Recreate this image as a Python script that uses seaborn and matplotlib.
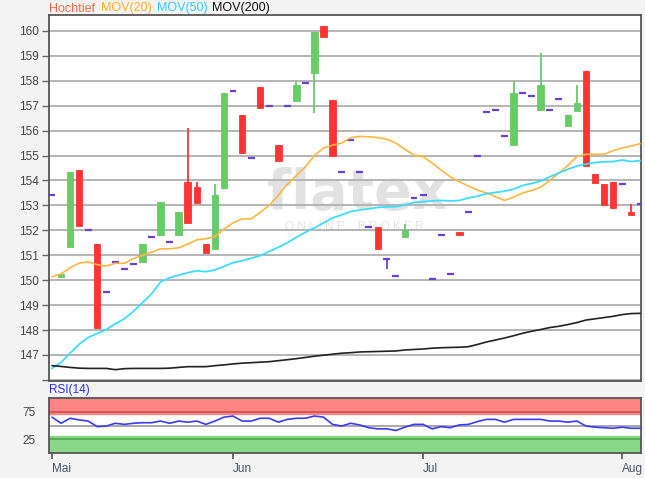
import numpy as np
import pandas as pd
import matplotlib
matplotlib.use("Agg")
import matplotlib.pyplot as plt
import seaborn as sns

# ---------------- data ----------------
month_labels = ["Mai", "Jun", "Jul", "Aug"]
month_pos = [0, 20, 41, 63]

opens = [153.42, 150.13, 151.33, 154.42, 152.00, 151.45, 149.54, 150.73, 150.45, 150.64,
         150.72, 151.73, 151.81, 151.55, 151.81, 153.95, 153.73, 151.45, 151.24, 153.69,
         157.59, 156.64, 154.90, 157.74, 157.00, 155.44, 157.00, 157.19, 157.93, 158.30,
         160.20, 157.22, 154.33, 155.63, 154.33, 152.12, 152.12, 150.84, 150.16, 151.75,
         153.31, 153.43, 150.06, 151.83, 150.25, 151.93, 152.74, 155.00, 156.74, 156.83,
         155.80, 155.41, 157.50, 157.39, 156.82, 156.82, 157.28, 156.19, 156.80, 158.41,
         154.25, 153.86, 153.94, 153.85, 152.75, 153.04]
highs = [153.42, 150.25, 154.34, 154.42, 152.00, 151.45, 149.54, 150.73, 150.45, 150.64,
         151.47, 151.73, 153.15, 151.55, 152.75, 156.12, 153.95, 151.45, 153.86, 157.50,
         157.59, 156.64, 154.90, 157.74, 157.00, 155.44, 157.00, 158.00, 157.93, 159.97,
         160.20, 157.22, 154.33, 155.63, 154.33, 152.12, 152.12, 150.84, 150.16, 152.24,
         153.31, 153.43, 150.06, 151.83, 150.25, 151.93, 152.74, 155.00, 156.74, 156.83,
         155.80, 158.00, 157.50, 157.39, 159.13, 156.82, 157.28, 156.63, 157.83, 158.41,
         154.25, 153.86, 153.94, 153.85, 153.04, 153.04]
lows = [153.42, 150.13, 151.33, 152.19, 152.00, 148.08, 149.54, 150.73, 150.45, 150.64,
        150.72, 151.73, 151.81, 151.55, 151.81, 152.30, 153.11, 151.10, 151.24, 153.69,
        157.59, 155.12, 154.90, 156.91, 157.00, 154.78, 157.00, 157.19, 157.93, 156.70,
        159.77, 155.00, 154.33, 155.63, 154.33, 152.12, 151.24, 150.44, 150.16, 151.75,
        153.31, 153.43, 150.06, 151.83, 150.25, 151.83, 152.74, 155.00, 156.74, 156.83,
        155.80, 155.41, 157.50, 157.39, 156.82, 156.82, 157.28, 156.19, 156.80, 154.60,
        153.91, 153.02, 152.91, 153.85, 152.63, 153.04]
closes = [153.42, 150.25, 154.34, 152.19, 152.00, 148.08, 149.54, 150.73, 150.45, 150.64,
          151.47, 151.73, 153.15, 151.55, 152.75, 152.30, 153.11, 151.10, 153.42, 157.50,
          157.59, 155.12, 154.90, 156.91, 157.00, 154.78, 157.00, 157.83, 157.93, 159.97,
          159.77, 155.00, 154.33, 155.63, 154.33, 152.12, 151.24, 150.84, 150.16, 152.01,
          153.31, 153.43, 150.06, 151.83, 150.25, 151.83, 152.74, 155.00, 156.74, 156.83,
          155.80, 157.50, 157.50, 157.39, 157.83, 156.82, 157.28, 156.63, 157.12, 154.60,
          153.91, 153.02, 152.91, 153.85, 152.63, 153.04]

mov20 = [150.14, 150.25, 150.50, 150.68, 150.74, 150.62, 150.57, 150.68, 150.68, 150.86,
         151.00, 151.12, 151.26, 151.26, 151.30, 151.45, 151.62, 151.66, 151.75, 152.05,
         152.30, 152.46, 152.46, 152.72, 153.00, 153.40, 153.85, 154.20, 154.55, 155.00,
         155.30, 155.42, 155.50, 155.72, 155.77, 155.75, 155.72, 155.66, 155.50, 155.25,
         155.02, 154.96, 154.70, 154.42, 154.15, 153.95, 153.78, 153.62, 153.50, 153.35,
         153.20, 153.33, 153.50, 153.60, 153.73, 154.00, 154.30, 154.60, 154.96, 155.05,
         155.05, 155.05, 155.20, 155.30, 155.38, 155.48]
mov50 = [146.46, 146.70, 147.07, 147.43, 147.70, 147.86, 148.02, 148.25, 148.45, 148.75,
         149.10, 149.45, 149.93, 150.10, 150.20, 150.30, 150.38, 150.34, 150.41, 150.55,
         150.70, 150.78, 150.88, 150.98, 151.15, 151.32, 151.50, 151.72, 151.92, 152.10,
         152.30, 152.50, 152.62, 152.75, 152.82, 152.86, 152.92, 152.94, 152.95, 153.02,
         153.12, 153.15, 153.18, 153.20, 153.18, 153.20, 153.30, 153.37, 153.47, 153.52,
         153.57, 153.65, 153.80, 153.88, 153.97, 154.15, 154.30, 154.45, 154.58, 154.66,
         154.72, 154.75, 154.76, 154.82, 154.76, 154.80]
mov200 = [146.57, 146.54, 146.50, 146.47, 146.46, 146.46, 146.46, 146.41, 146.45, 146.46,
          146.46, 146.46, 146.46, 146.47, 146.50, 146.53, 146.53, 146.53, 146.57, 146.60,
          146.64, 146.67, 146.69, 146.71, 146.73, 146.77, 146.81, 146.85, 146.90, 146.95,
          146.99, 147.03, 147.07, 147.09, 147.12, 147.13, 147.14, 147.15, 147.16, 147.20,
          147.22, 147.24, 147.27, 147.29, 147.30, 147.31, 147.33, 147.42, 147.52, 147.60,
          147.68, 147.77, 147.87, 147.95, 148.02, 148.10, 148.15, 148.22, 148.30, 148.40,
          148.45, 148.50, 148.55, 148.62, 148.66, 148.67]
rsi = [65, 54, 63, 60, 58, 48, 49, 54, 52, 54, 55, 55, 58, 54, 58, 56, 58, 52, 58, 65,
       67, 58, 58, 63, 63, 56, 61, 63, 63, 67, 65, 52, 49, 54, 51, 46, 44, 44, 41, 47,
       52, 52, 44, 48, 46, 51, 52, 57, 61, 61, 56, 61, 61, 61, 61, 58, 58, 56, 58, 49,
       47, 46, 45, 47, 45, 45]

df = pd.DataFrame({"open": opens, "high": highs, "low": lows, "close": closes,
                   "mov20": mov20, "mov50": mov50, "mov200": mov200, "rsi": rsi})
df["idx"] = np.arange(len(df))

# ---------------- style ----------------
sns.set_theme(style="white")
plt.rcParams["font.family"] = ["Liberation Sans", "DejaVu Sans"]

RED = "#ff3333"
GREEN = "#66cc66"
FLAT = "#6a3fe0"
TXT = "#444444"

W, H = 645, 478
fig = plt.figure(figsize=(W / 100, H / 100), dpi=100, facecolor="#f3f3f3")
ax = fig.add_axes([49 / W, (H - 381) / H, 592 / W, 366 / H])
ax2 = fig.add_axes([49 / W, (H - 453.3) / H, 592 / W, 55.6 / H])
XL = (-0.33, 65.08)

# ---------------- main price panel ----------------
ax.set_facecolor("white")
ax.set_xlim(*XL)
ax.set_ylim(145.955, 160.64)
ax.set_yticks(range(146, 161))
ax.set_yticklabels([""] + [str(v) for v in range(147, 161)])
ax.grid(axis="y", color="#b4b4b4", lw=1.4)
ax.grid(axis="x", visible=False)
ax.set_axisbelow(True)
ax.set_xticks([])

# watermark
ax.text(0.52, 1 - (209 - 15) / 366, "flatex", transform=ax.transAxes, fontsize=40,
        color="#e2e2e2", ha="center", va="baseline", family="DejaVu Sans",
        fontweight="bold", zorder=0.5)
ax.text(0.515, 1 - (227 - 15) / 366, "O N L I N E    B R O K E R", transform=ax.transAxes,
        fontsize=8.5, color="#e2e2e2", ha="center", va="center", zorder=0.5)

flat = df[df["open"] == df["close"]]
body = df[df["open"] != df["close"]]
up = body[body["close"] > body["open"]]
dn = body[body["close"] < body["open"]]

# wicks and bodies
for sub, col in ((up, GREEN), (dn, RED)):
    ax.vlines(sub["idx"], sub["low"], sub["high"], color=col, lw=1.3, zorder=3)
    ax.bar(sub["idx"], (sub["close"] - sub["open"]).abs(),
           bottom=np.minimum(sub["open"], sub["close"]), width=0.72,
           color=col, edgecolor=col, lw=0.6, zorder=4)
# flat days
ax.hlines(flat["close"], flat["idx"] - 0.38, flat["idx"] + 0.38, color=FLAT, lw=1.6, zorder=4)
ax.vlines(flat["idx"], flat["low"], flat["high"], color=FLAT, lw=1.3, zorder=4)

sns.lineplot(data=df, x="idx", y="mov20", ax=ax, color="#ffb640", lw=1.2, zorder=5)
sns.lineplot(data=df, x="idx", y="mov50", ax=ax, color="#3cdcff", lw=1.3, zorder=5)
sns.lineplot(data=df, x="idx", y="mov200", ax=ax, color="#222222", lw=1.2, zorder=5)
ax.set_xlabel("")
ax.set_ylabel("")
ax.set_xlim(*XL)
ax.tick_params(axis="y", left=True, direction="out", length=5, width=1, color="#666666",
               labelsize=8.5, labelcolor=TXT, pad=2)
for s in ax.spines.values():
    s.set_color("#555555")
    s.set_linewidth(1.3)

# header legend
hx = 49
for label, col, wpx in (("Hochtief", "#ff6a40", 51.5), ("MOV(20)", "#ffb020", 56),
                        ("MOV(50)", "#33ccff", 56), ("MOV(200)", "#111111", 60)):
    fig.text(hx / W, 1 - 8.5 / H, label, color=col, fontsize=9, ha="left", va="center")
    hx += wpx

# ---------------- RSI panel ----------------
ax2.set_facecolor("white")
ax2.axhspan(70, 110, color="#ff8585", zorder=0)
ax2.axhspan(-10, 31, color="#88d888", zorder=0)
ax2.axhline(75, color="#c85050", lw=1.2, zorder=1)
ax2.axhline(25, color="#4da84d", lw=1.2, zorder=1)
ax2.axhline(50, color="#999999", lw=1.2, zorder=1)
sns.lineplot(data=df, x="idx", y="rsi", ax=ax2, color="#3a3aff", lw=1.2, zorder=3)
ax2.set_xlim(*XL)
ax2.set_ylim(0, 100)
ax2.set_yticks([25, 75])
ax2.set_yticklabels(["25", "75"])
ax2.set_xticks(month_pos)
ax2.set_xticklabels(month_labels, ha="left")
ax2.set_xlabel("")
ax2.set_ylabel("")
ax2.grid(False)
ax2.tick_params(axis="y", left=False, labelsize=8.5, labelcolor=TXT, pad=4)
ax2.tick_params(axis="x", bottom=True, direction="out", length=4, width=1.2, color="#445566",
                labelsize=8.5, labelcolor="#445566", pad=3)
for s in ax2.spines.values():
    s.set_color("#555555")
    s.set_linewidth(1.3)
fig.text(49 / W, 1 - 390 / H, "RSI(14)", color="#2a2aff", fontsize=8.5, ha="left", va="center")

fig.savefig("out.png", dpi=100, facecolor=fig.get_facecolor())
